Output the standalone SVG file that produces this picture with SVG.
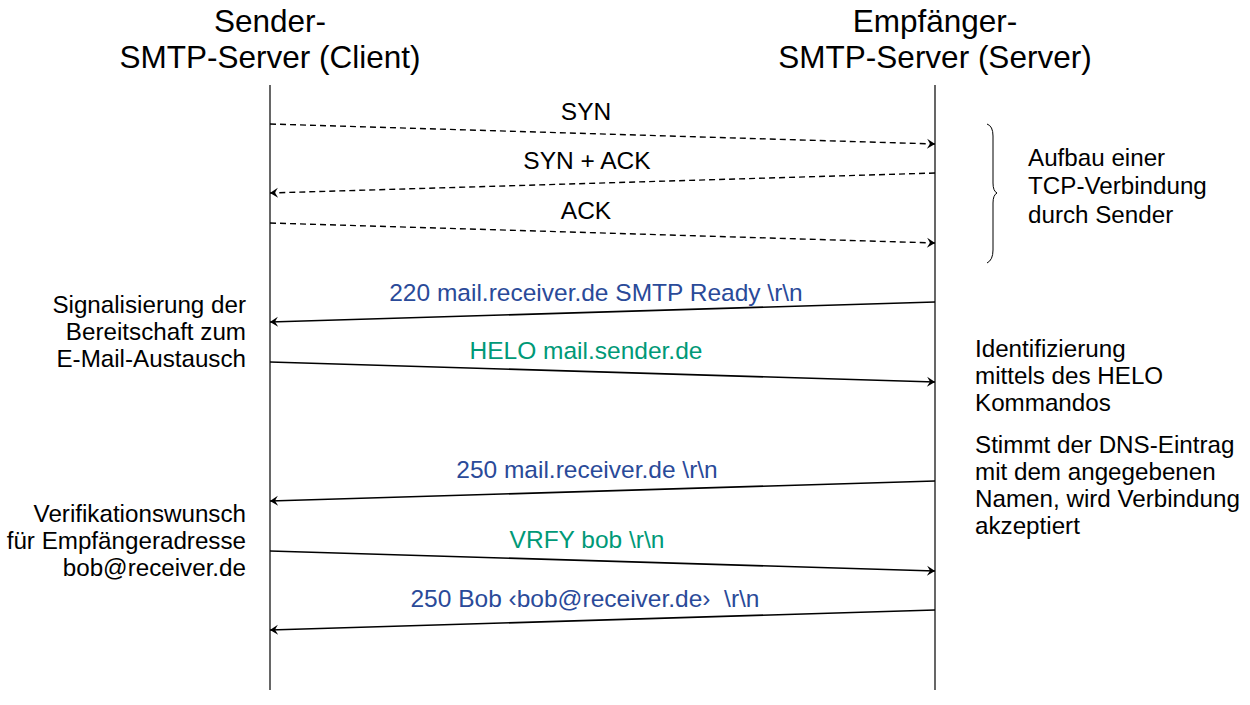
<svg xmlns="http://www.w3.org/2000/svg" width="1250" height="705" viewBox="0 0 1250 705">
<defs>
<style>
text{font-family:"Liberation Sans",Arial,sans-serif;fill:#000}
.h{font-size:31.5px;text-anchor:middle}
.l{font-size:24.5px;text-anchor:middle}
.n{font-size:24.2px}
.r{text-anchor:end}
.b{fill:#2a4a99}
.g{fill:#009977}
.life{stroke:#000;stroke-width:1.2}
.msg{stroke:#000;stroke-width:1.6;fill:none;marker-end:url(#ah)}
.d{stroke-dasharray:6 4;stroke-width:1.4}
</style>
<marker id="ah" markerWidth="12" markerHeight="12" refX="9" refY="6" orient="auto" markerUnits="userSpaceOnUse">
<path d="M1,1 L9,6 L1,11 L4,6 Z" fill="#000"/>
</marker>
</defs>
<rect width="1250" height="705" fill="#fff"/>
<g id="sender">
<text class="h" x="270" y="32">Sender-</text>
<text class="h" x="270" y="68">SMTP-Server (Client)</text>
<line class="life" x1="270" y1="85" x2="270" y2="690"/>
</g>
<g id="receiver">
<text class="h" x="935" y="32">Empfänger-</text>
<text class="h" x="935" y="68">SMTP-Server (Server)</text>
<line class="life" x1="935" y1="85" x2="935" y2="690"/>
</g>
<g id="connectors">
<path class="msg d" d="M270,124 L935,144"/>
<path class="msg d" d="M935,173 L270,193"/>
<path class="msg d" d="M270,223 L935,243"/>
<path class="msg" d="M935,302 L270,322"/>
<path class="msg" d="M270,362 L935,382"/>
<path class="msg" d="M935,481 L270,501"/>
<path class="msg" d="M270,551 L935,571"/>
<path class="msg" d="M935,610 L270,630"/>
</g>
<g id="labels">
<text class="l" x="586" y="120">SYN</text>
<text class="l" x="587" y="169">SYN + ACK</text>
<text class="l" x="586" y="219">ACK</text>
<text class="l b" x="596" y="301">220 mail.receiver.de SMTP Ready \r\n</text>
<text class="l g" x="586" y="359">HELO mail.sender.de</text>
<text class="l b" x="587" y="478">250 mail.receiver.de \r\n</text>
<text class="l g" x="587" y="548">VRFY bob \r\n</text>
<text class="l b" x="585" y="607" xml:space="preserve">250 Bob ‹bob@receiver.de›  \r\n</text>
</g>
<g id="brace">
<path d="M987,124 Q993,126 993,136 L993,183 Q993,191 997,193 Q993,195 993,203 L993,250 Q993,260 987,263" fill="none" stroke="#000" stroke-width="1"/>
</g>
<g id="note-tcp">
<text class="n" x="1028" y="166">Aufbau einer</text>
<text class="n" x="1028" y="194">TCP-Verbindung</text>
<text class="n" x="1028" y="223">durch Sender</text>
</g>
<g id="note-signal">
<text class="n r" x="246" y="313">Signalisierung der</text>
<text class="n r" x="246" y="340">Bereitschaft zum</text>
<text class="n r" x="246" y="367">E-Mail-Austausch</text>
</g>
<g id="note-helo">
<text class="n" x="975" y="357">Identifizierung</text>
<text class="n" x="975" y="384">mittels des HELO</text>
<text class="n" x="975" y="411">Kommandos</text>
</g>
<g id="note-dns">
<text class="n" x="975" y="453">Stimmt der DNS-Eintrag</text>
<text class="n" x="975" y="480">mit dem angegebenen</text>
<text class="n" x="975" y="507">Namen, wird Verbindung</text>
<text class="n" x="975" y="534">akzeptiert</text>
</g>
<g id="note-vrfy">
<text class="n r" x="246" y="522">Verifikationswunsch</text>
<text class="n r" x="246" y="549">für Empfängeradresse</text>
<text class="n r" x="246" y="576">bob@receiver.de</text>
</g>
</svg>
